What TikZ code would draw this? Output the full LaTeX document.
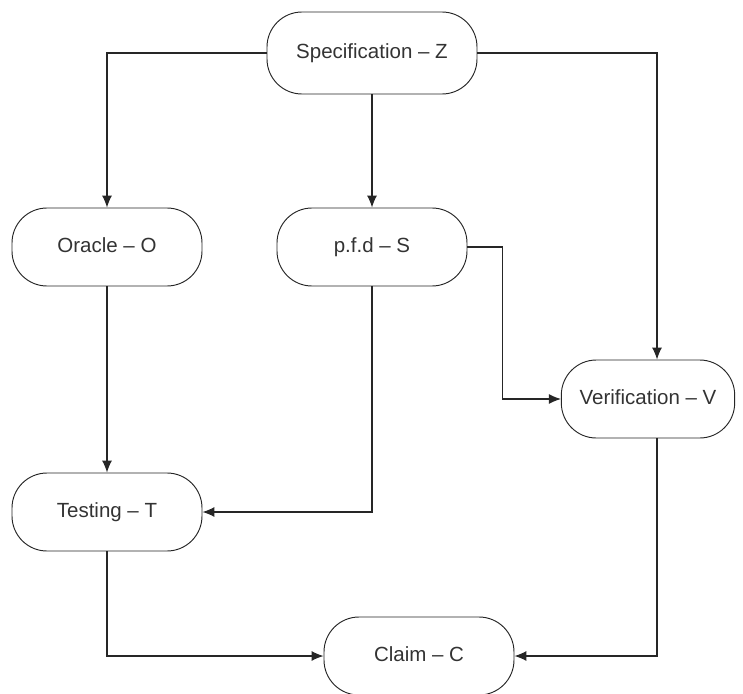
\documentclass[tikz,border=0pt]{standalone}
\usepackage{fontspec}
\setmainfont{Liberation Sans}
\usepackage{tikz}
\usetikzlibrary{positioning,arrows.meta}

\begin{document}
\begin{tikzpicture}[x=0.3mm,y=-0.3mm]
\tikzstyle{stage}=[draw=black!85, line width=0.8pt, rounded corners=10.5mm, minimum width=57mm, minimum height=23.4mm, font=\fontsize{17.5}{20}\selectfont, text=black!80, text height=12.5pt, text depth=3.5pt]
\tikzstyle{flow}=[draw=black!85, line width=0.9pt, -{Latex[length=3.6mm,width=3mm]}]
\useasboundingbox (0,0) rectangle (743,694);
\node [stage, minimum width=63mm, minimum height=24.6mm] (z) at (372,53) {Specification -- Z};
\node [stage] (o) at (107,247) {Oracle -- O};
\node [stage] (s) at (372,247) {p.f.d -- S};
\node [stage, minimum width=52mm] (v) at (648,399) {Verification -- V};
\node [stage] (t) at (107,512) {Testing -- T};
\node [stage] (c) at (419,656) {Claim -- C};

\draw [flow] (z.west) -| (o.north);
\draw [flow] (z.south) -- (s.north);
\draw [flow] (z.east) -| ([xshift=2.7mm]v.north);
\draw [flow] (s.east) -- ++(35,0) |- (v.west);
\draw [flow] (o.south) -- (t.north);
\draw [flow] (s.south) |- (t.east);
\draw [flow] (t.south) |- (c.west);
\draw [flow] ([xshift=2.7mm]v.south) |- (c.east);
\end{tikzpicture}
\end{document}
